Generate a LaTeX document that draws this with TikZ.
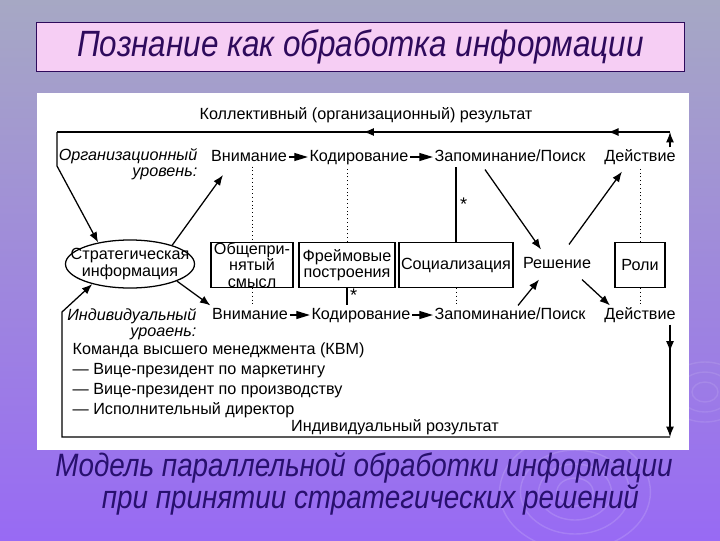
\documentclass[tikz,border=0pt]{standalone}
\usepackage{fontspec}
\setmainfont{Liberation Sans}
\newfontfamily\slidefont[FakeStretch=0.86]{Liberation Sans}
\usepackage{xcolor}
\usetikzlibrary{arrows.meta,calc,positioning,shapes.geometric,decorations.markings}

\definecolor{slidetop}{RGB}{166,168,196}
\definecolor{slidemid}{RGB}{162,150,214}
\definecolor{slidebot}{RGB}{152,106,244}
\definecolor{titlefill}{RGB}{246,206,244}
\definecolor{titleink}{RGB}{46,10,92}
\definecolor{captionink}{RGB}{40,16,110}

\newcommand\diagfont{\fontsize{11.5}{11.5}\selectfont}

\begin{document}
\begin{tikzpicture}[
  x=0.025cm, y=-0.025cm,
  word/.style={
    font=\diagfont,
    inner sep=1pt
  },
  stage/.style={
    word,
    text height=8.6pt,
    text depth=2.6pt
  },
  tier/.style={
    font=\diagfont\itshape,
    align=right,
    anchor=east,
    inner sep=1pt
  },
  box/.style={
    draw,
    line width=0.9pt,
    font=\diagfont,
    align=center,
    minimum height=1.125cm,
    inner xsep=1pt,
    inner ysep=0pt
  },
  arrow/.style={
    -{Latex[length=2.6mm,width=2mm]},
    line width=0.9pt
  },
  wordarrow/.style={
    -{Triangle[length=3.4mm,width=2mm]},
    line width=0.9pt
  },
  dotline/.style={
    dotted,
    line width=0.7pt
  },
  star/.style={
    font=\fontsize{13}{13}\selectfont,
    inner sep=0.5pt
  },
  topmarks/.style={
    postaction={decorate},
    decoration={markings,
      mark=at position 0.101 with {\arrow{Latex[length=2.6mm,width=2mm]}},
      mark=at position 0.5 with {\arrow{Latex[length=2.6mm,width=2mm]}}}
  },
  sidemark/.style={
    postaction={decorate},
    decoration={markings,
      mark=at position 0.24 with {\arrow{Latex[length=2.6mm,width=2mm]}}}
  },
  titlebox/.style={
    draw=titleink,
    fill=titlefill,
    line width=0.6pt,
    minimum width=16.175cm,
    minimum height=1.225cm,
    font=\slidefont\itshape\fontsize{26}{26}\selectfont,
    text=titleink
  },
  caption/.style={
    align=center,
    font=\slidefont\itshape\fontsize{23}{19.5}\selectfont,
    text=captionink
  }
]
\useasboundingbox (0,0) rectangle (720,540);

% Фон слайда
\shade[top color=slidetop, middle color=slidemid, bottom color=slidebot]
  (0,0) rectangle (720,540);
\foreach \r in {14,28,42,58}
  \draw[white, opacity=0.14, line width=1pt] (575,492) circle[x radius=\r*1.3, y radius=\r];
\foreach \r in {10,20,30}
  \draw[white, opacity=0.1, line width=1pt] (705,392) circle[x radius=\r*1.3, y radius=\r];
\fill[white] (37,93) rectangle (689,450);

% Заголовок и подпись
\node[titlebox] (title) at (360.5,46.5) {Познание как обработка информации};
\node[caption] (caption) at (364,484)
  {Модель параллельной обработки информации\\\hspace*{0.4em}при принятии стратегических решений};

% Организационный уровень
\node[word] (collres) at (366,115) {Коллективный (организационный) результат};
\node[tier] (orglvl) at (199,164.5) {Организационный\\уровень:};
\node[stage] (att1) at (249,157) {Внимание};
\node[stage] (enc1) at (359,157) {Кодирование};
\node[stage] (mem1) at (510,157) {Запоминание/Поиск};
\node[stage] (act1) at (640,157) {Действие};

% Блоки посередине
\node[ellipse, draw, line width=0.9pt, minimum width=3.225cm,
  minimum height=1.2cm, inner sep=0pt] (strat) at (130,264) {};
\node[word, align=center] (strattext) at (strat.center)
  {Стратегическая\\информация};
\node[box, minimum width=2.05cm] (common) at (252,265)
  {Общепри-\\нятый\\смысл};
\node[box, minimum width=2.4cm] (frame) at (347,265)
  {Фреймовые\\построения};
\node[box, minimum width=2.85cm] (social) at (456,265) {Социализация};
\node[stage] (decide) at (557,264) {Решение};
\node[box, minimum width=1.25cm] (roles) at (640,265) {Роли};

% Индивидуальный уровень
\node[tier] (indlvl) at (198,324.5) {Индивидуальный\\уроаень:};
\node[stage] (att2) at (250,315) {Внимание};
\node[stage] (enc2) at (361,315) {Кодирование};
\node[stage] (mem2) at (510,315) {Запоминание/Поиск};
\node[stage] (act2) at (640,315) {Действие};
\node[word, anchor=north west, align=left,
  font=\fontsize{11.5}{14.3}\selectfont] (team) at (71,341)
  {Команда высшего менеджмента (КВМ)\\
   — Вице-президент по маркетингу\\
   — Вице-президент по производству\\
   — Исполнительный директор};
\node[word] (indres) at (395,427) {Индивидуальный розультат};

% Опорные точки контуров
\coordinate (topR) at (670,132);
\coordinate (topL) at (57,132);
\coordinate (orgL) at (57,166);
\coordinate (orgin) at (223,175);
\coordinate (botR) at (670,437);
\coordinate (botL) at (62,437);
\coordinate (indL) at (62,312);

% Цепочки этапов
\draw[wordarrow] (att1) -- (enc1);
\draw[wordarrow] (enc1) -- (mem1);
\draw[wordarrow] (att2) -- (enc2);
\draw[wordarrow] (enc2) -- (mem2);

% Вертикальные связи
\draw[dotline] (att1.south -| common.north) -- (common.north);
\draw[dotline] (common.south) -- (common.south |- att2.north);
\draw[dotline] (frame.north) -- (frame.north |- enc1.south);
\draw[line width=0.9pt] (frame.south) -- (frame.south |- enc2.north);
\node[star, anchor=north west] (star2) at ([xshift=1.5pt]frame.south) {*};
\draw[line width=0.9pt] (social.north) -- (social.north |- mem1.south)
  node[midway, star, anchor=west, xshift=2pt] (star1) {*};
\draw[dotline] (social.south) -- (social.south |- mem2.north);
\draw[dotline] (roles.north) -- (roles.north |- act1.south);
\draw[dotline] (roles.south) -- (roles.south |- act2.north);

% Решение
\draw[arrow] ($(mem1.south)+(-25,3)$) -- ($(decide.north)+(-16,-5)$);
\draw[arrow] ($(decide.north)+(12,-10)$) -- ($(act1.south)+(-18,5)$);
\draw[arrow] ($(mem2.north)+(8,0)$) -- ($(decide.south)+(-18,6)$);
\draw[arrow] ($(decide.south)+(25,6)$) -- ($(act2.north)+(-30,0)$);

% Стратегическая информация
\draw[arrow] (strat.24) -- (orgin);
\draw[arrow] (strat.-20) -- (att2.north west);

% Коллективный результат
\draw[arrow] (act1.north -| topR) -- (topR);
\draw[line width=0.9pt, topmarks] (topR) -- (topL);
\draw[arrow] (topL) -- (orgL) -- (strat.146);

% Индивидуальный результат
\draw[arrow, sidemark] (act2.south -| botR) -- (botR);
\draw[arrow] (botR) -- (botL) -- (indL) -- (strat.208);

\end{tikzpicture}
\end{document}
